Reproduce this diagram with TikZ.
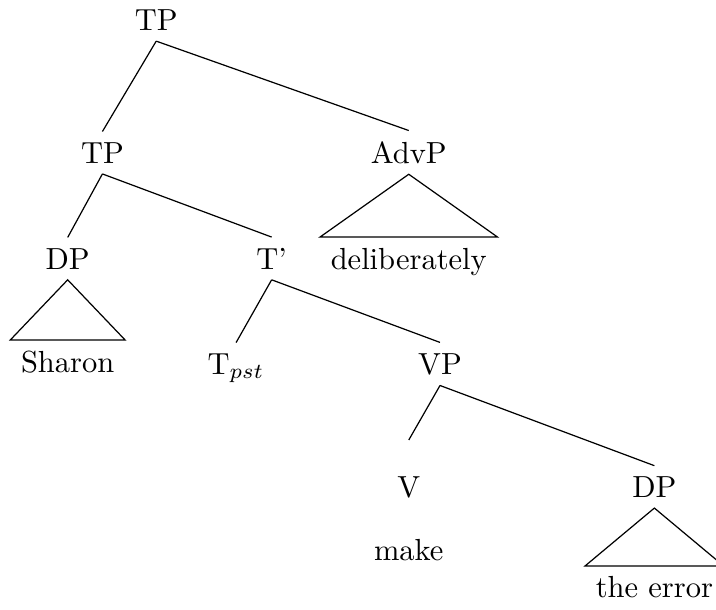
\documentclass[tikz,border=0pt]{standalone}
\usepackage{amsmath}
\usepackage{tikz}

\begin{document}
\begin{tikzpicture}[lbl/.style={anchor=base}]
	\useasboundingbox (0, 0) rectangle (8.25, 7.02);
	\node[lbl] (tp1) at (1.80, 6.67) {TP};
	\node[lbl] (tp2) at (1.18, 5.14) {TP};
	\node[lbl] (advp) at (4.71, 5.14) {AdvP};
	\node[lbl] (dp1) at (0.78, 3.92) {DP};
	\node[lbl] (tbar) at (3.13, 3.92) {T'};
	\node[lbl] (adv) at (4.71, 3.92) {deliberately};
	\node[lbl] (sharon) at (0.78, 2.73) {Sharon};
	\node[lbl] (tpst) at (2.72, 2.71) {T\(_{pst}\)};
	\node[lbl] (vp) at (5.07, 2.71) {VP};
	\node[lbl] (v) at (4.71, 1.29) {V};
	\node[lbl] (dp2) at (7.54, 1.29) {DP};
	\node[lbl] (make) at (4.71, 0.56) {make};
	\node[lbl] (err) at (7.54, 0.13) {the error};
	\coordinate (vtop) at (4.71, 1.95);
	\draw (tp1.south) -- (tp2.north);
	\draw (tp1.south) -- (advp.north);
	\draw (tp2.south) -- (dp1.north);
	\draw (tp2.south) -- (tbar.north);
	\draw (tbar.south) -- (tpst.north);
	\draw (tbar.south) -- (vp.north);
	\draw (vp.south) -- (vtop);
	\draw (vp.south) -- (dp2.north);
	\draw (advp.south) -- (adv.north west) -- (adv.north east) -- cycle;
	\draw (dp1.south) -- (sharon.north west) -- (sharon.north east) -- cycle;
	\draw (dp2.south) -- (err.north west) -- (err.north east) -- cycle;
\end{tikzpicture}
\end{document}
